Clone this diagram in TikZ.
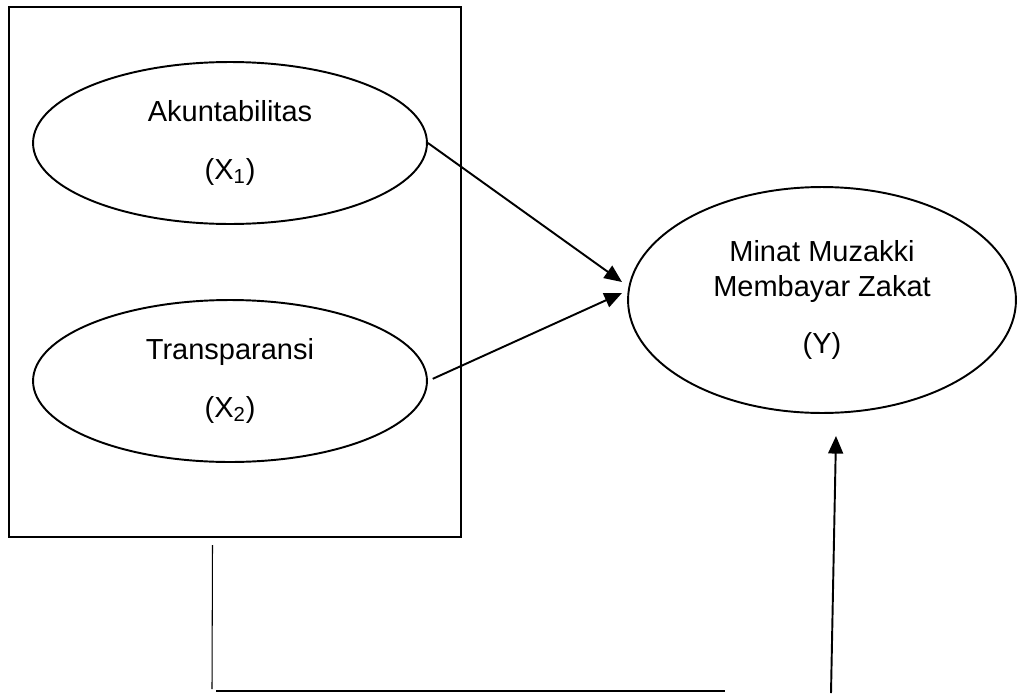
\documentclass[tikz,border=0pt]{standalone}
\usepackage{fontspec}
\setmainfont{Liberation Sans}
\usetikzlibrary{shapes.geometric,arrows.meta}

\begin{document}
\begin{tikzpicture}[x=0.02cm, y=-0.02cm,
  var/.style={draw, ellipse, line width=1.1pt, inner sep=0pt, align=center,
    font=\fontsize{16.5}{20.4}\selectfont},
  panah/.style={line width=1.1pt, -{Triangle[length=10pt,width=8.5pt]}}]
\useasboundingbox (0,0) rectangle (1017,693);
% kotak variabel bebas
\node (kotak) [draw, line width=1.1pt, inner sep=0pt,
  minimum width=9.04cm, minimum height=10.6cm] at (235,272) {};
\node (akun) [var, minimum width=7.88cm, minimum height=3.24cm] at (230,143)
  {Akuntabilitas\\[12.5pt](X\textsubscript{1})};
\node (trans) [var, minimum width=7.88cm, minimum height=3.24cm] at (230,381)
  {Transparansi\\[12.5pt](X\textsubscript{2})};
\node (minat) [var, minimum width=7.76cm, minimum height=4.52cm] at (822,300)
  {Minat Muzakki\\Membayar Zakat\\[12pt](Y)};
% titik bantu
\coordinate (ujungA) at (622,282);
\coordinate (ujungB) at (622,293);
\coordinate (turunA) at (212.5,545);
\coordinate (turunB) at (212,689);
\coordinate (garisA) at (216,691);
\coordinate (garisB) at (725,691);
\coordinate (naikA) at (831,693);
\coordinate (naikB) at (836,436);
% panah
\draw[panah] (akun.east) -- (ujungA);
\draw[panah, shorten <=3pt] (trans.east) -- (ujungB);
\draw[line width=0.6pt] (turunA) -- (turunB);
\draw[line width=1.1pt] (garisA) -- (garisB);
\draw[panah] (naikA) -- (naikB);
\end{tikzpicture}
\end{document}
